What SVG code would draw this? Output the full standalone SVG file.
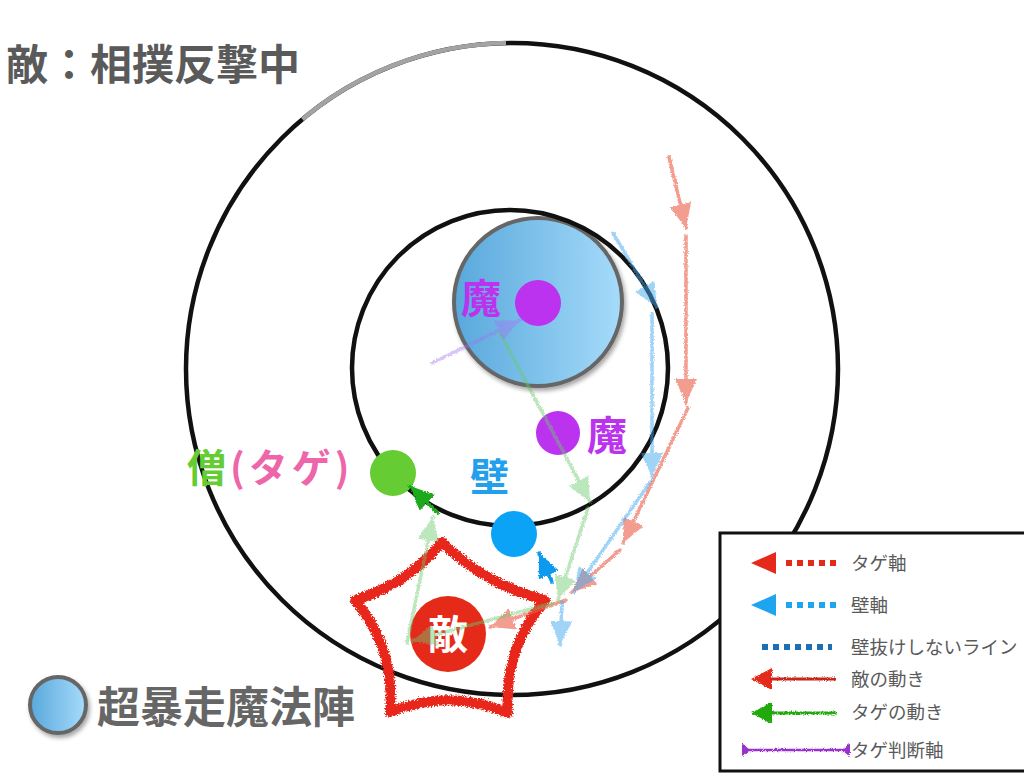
<svg xmlns="http://www.w3.org/2000/svg" width="1024" height="780" viewBox="0 0 1024 780">
<defs>
<style>
.t{font-family:"Noto Sans CJK JP","Noto Sans CJK SC",sans-serif}
.lg{font-size:18.5px;fill:#5a5a5a}
.ring{fill:none;stroke:#111;stroke-width:4.5}
.fl{fill:none;stroke-width:3.5;stroke-linecap:round}
</style>
<linearGradient id="bg" x1="0" y1="0" x2="1" y2="0">
<stop offset="0" stop-color="#58a8dc"/>
<stop offset="1" stop-color="#a6dbfa"/>
</linearGradient>
<filter id="sh" x="-20%" y="-20%" width="140%" height="140%">
<feDropShadow dx="2" dy="3" stdDeviation="2" flood-opacity="0.35"/>
</filter>
<filter id="rough" x="-10%" y="-10%" width="120%" height="120%">
<feTurbulence type="fractalNoise" baseFrequency="0.9" numOctaves="2" seed="3"/>
<feDisplacementMap in="SourceGraphic" scale="3.5" xChannelSelector="R" yChannelSelector="G"/>
</filter>
<filter id="rough2" x="-10%" y="-10%" width="120%" height="120%">
<feTurbulence type="fractalNoise" baseFrequency="0.7" numOctaves="2" seed="7"/>
<feDisplacementMap in="SourceGraphic" scale="6" xChannelSelector="R" yChannelSelector="G"/>
</filter>
<marker id="mR" markerUnits="userSpaceOnUse" markerWidth="26" markerHeight="24" refX="24" refY="11" orient="auto"><path d="M0,0 L24,11 L0,22 z" fill="#ec5a48"/></marker>
<marker id="mB" markerUnits="userSpaceOnUse" markerWidth="26" markerHeight="24" refX="24" refY="11" orient="auto"><path d="M0,0 L24,11 L0,22 z" fill="#45aaf0"/></marker>
<marker id="mG" markerUnits="userSpaceOnUse" markerWidth="26" markerHeight="24" refX="24" refY="11" orient="auto"><path d="M0,0 L24,11 L0,22 z" fill="#6cc86c"/></marker>
<marker id="mP" markerUnits="userSpaceOnUse" markerWidth="26" markerHeight="24" refX="24" refY="11" orient="auto"><path d="M0,0 L24,11 L0,22 z" fill="#a070ee"/></marker>
<marker id="mGs" markerUnits="userSpaceOnUse" markerWidth="26" markerHeight="24" refX="24" refY="11" orient="auto"><path d="M0,0 L24,11 L0,22 z" fill="#1faa1f"/></marker>
<marker id="mBs" markerUnits="userSpaceOnUse" markerWidth="26" markerHeight="24" refX="24" refY="11" orient="auto"><path d="M0,0 L24,11 L0,22 z" fill="#1199ee"/></marker>
</defs>
<rect width="1024" height="780" fill="#fff"/>

<text class="t" x="6" y="80" font-size="42" font-weight="bold" fill="#5a5a5a">敵：相撲反撃中</text>

<g id="outer-ring">
<circle class="ring" cx="512" cy="369" r="326"/>
<path d="M302.4,119.3 A326,326 0 0 1 506,43.05" fill="none" stroke="#a3a3a3" stroke-width="4.5"/>
</g>

<g id="magic-circle">
<circle cx="538" cy="302" r="84" fill="url(#bg)" stroke="#666" stroke-width="4" filter="url(#sh)"/>
</g>

<g id="inner-ring">
<circle class="ring" cx="510" cy="368" r="158"/>
</g>

<g id="mage1">
<circle cx="538" cy="303" r="23" fill="#bb33ee"/>
<text class="t" x="461" y="313" font-size="40" font-weight="bold" fill="#bb33ee">魔</text>
</g>
<g id="mage2">
<circle cx="558" cy="433" r="22" fill="#bb33ee"/>
<text class="t" x="587" y="450" font-size="40" font-weight="bold" fill="#bb33ee">魔</text>
</g>
<g id="priest">
<circle cx="393" cy="473" r="23" fill="#66cc33"/>
<text class="t" x="187" y="482" font-size="39" font-weight="bold" letter-spacing="4"><tspan fill="#66cc33">僧</tspan><tspan fill="#ee66aa">(タゲ)</tspan></text>
</g>
<g id="wall">
<circle cx="514" cy="534" r="23" fill="#0aa3f5"/>
<text class="t" x="470" y="491" font-size="39" font-weight="bold" fill="#22a0ee">壁</text>
</g>

<g id="enemy">
<path d="M442,542 Q484,584 545,600 Q503.5,649.5 508,713 Q449,688 390,712 Q395.5,649 355,600 Q408.5,583.5 442,542 z" fill="none" stroke="#e8281a" stroke-width="10" stroke-linejoin="round" filter="url(#rough2)"/>
<circle cx="448" cy="634" r="38" fill="#e52a1a"/>
<text class="t" x="448" y="649" font-size="40" font-weight="bold" fill="#fff" text-anchor="middle">敵</text>
</g>

<g id="connectors" filter="url(#rough)">
<g opacity="0.6" stroke="#ec5a48">
<path class="fl" d="M669,157 L686,228" marker-end="url(#mR)"/>
<path class="fl" d="M686,236 L686,403" marker-end="url(#mR)"/>
<path class="fl" d="M688,408 L623,543" marker-end="url(#mR)"/>
<path class="fl" d="M620,550 L572,592" marker-end="url(#mR)"/>
<path class="fl" d="M566,600 L490,627" marker-end="url(#mR)"/>
</g>
<g opacity="0.5" stroke="#45aaf0">
<path class="fl" d="M613,233 L657,307" marker-end="url(#mB)"/>
<path class="fl" d="M652,314 L652,477" marker-end="url(#mB)"/>
<path class="fl" d="M650,482 L574,592" marker-end="url(#mB)"/>
<path class="fl" d="M562,602 L560,645" marker-end="url(#mB)"/>
</g>
<g opacity="0.45" stroke="#6cc86c">
<path class="fl" d="M500,333 L590,502" marker-end="url(#mG)"/>
<path class="fl" d="M588,508 L558,600" marker-end="url(#mG)"/>
<path class="fl" d="M553,603 L412,641" marker-end="url(#mG)"/>
<path class="fl" d="M407,643 L433,517" marker-end="url(#mG)"/>
</g>
<g opacity="0.4" stroke="#a070ee">
<path class="fl" d="M432,363 L520,320" marker-end="url(#mP)"/>
</g>
<path class="fl" stroke="#1faa1f" d="M438,513 L410,486" marker-end="url(#mGs)"/>
<path class="fl" stroke="#1199ee" d="M552,582 L539,553" marker-end="url(#mBs)"/>
</g>

<g id="legend-magic">
<circle cx="58" cy="705" r="28" fill="url(#bg)" stroke="#666" stroke-width="4" filter="url(#sh)"/>
<text class="t" x="97" y="723" font-size="43" font-weight="bold" fill="#666">超暴走魔法陣</text>
</g>

<g id="legend">
<rect x="720" y="533" width="310" height="238" fill="#fff" stroke="#111" stroke-width="3"/>
<polygon points="751,563 776,552 776,574" fill="#e52a1a"/>
<line x1="786" y1="563" x2="840" y2="563" stroke="#e52a1a" stroke-width="6" stroke-dasharray="6 5"/>
<text class="t lg" x="851" y="570">タゲ軸</text>
<polygon points="751,605 776,594 776,616" fill="#1fa5f0"/>
<line x1="786" y1="605" x2="840" y2="605" stroke="#1fa5f0" stroke-width="6" stroke-dasharray="6 5"/>
<text class="t lg" x="851" y="612">壁軸</text>
<line x1="762" y1="647" x2="832" y2="647" stroke="#1a6fb5" stroke-width="6" stroke-dasharray="6 5"/>
<text class="t lg" x="851" y="654">壁抜けしないライン</text>
<g filter="url(#rough)">
<polygon points="751,679 772,668 772,690" fill="#e52a1a"/>
<line x1="770" y1="679" x2="836" y2="679" stroke="#c8281a" stroke-width="3"/>
<polygon points="751,713 772,702 772,724" fill="#22aa11"/>
<line x1="770" y1="713" x2="836" y2="713" stroke="#22aa11" stroke-width="3"/>
<line x1="742" y1="750" x2="850" y2="750" stroke="#9933cc" stroke-width="2.5"/>
<polygon points="742,743 750,750 742,757" fill="#9933cc"/>
<polygon points="850,743 842,750 850,757" fill="#9933cc"/>
</g>
<text class="t lg" x="851" y="686">敵の動き</text>
<text class="t lg" x="851" y="719">タゲの動き</text>
<text class="t lg" x="851" y="757">タゲ判断軸</text>
</g>
</svg>
